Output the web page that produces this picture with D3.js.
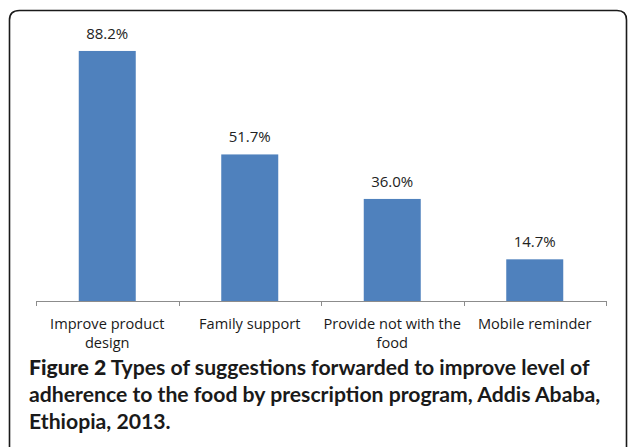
<!DOCTYPE html>
<html>
<head>
<meta charset="utf-8">
<script src="https://cdn.jsdelivr.net/npm/d3@7"></script>
<style>
  html, body { margin: 0; padding: 0; background: #fff; }
  svg { display: block; }
</style>
</head>
<body>
<svg id="chart" width="629" height="447"></svg>
<script>
// ---- data ----
const categories = [
  ["Improve product", "design"],
  ["Family support"],
  ["Provide not with the", "food"],
  ["Mobile reminder"]
];
const values = [88.2, 51.7, 36.0, 14.7];
const valueLabels = ["88.2%", "51.7%", "36.0%", "14.7%"];
const captionBold = "Figure 2";
const captionLines = [
  " Types of suggestions forwarded to improve level of",
  "adherence to the food by prescription program, Addis Ababa,",
  "Ethiopia, 2013."
];

// ---- layout ----
const W = 629, H = 447;
const svg = d3.select("#chart");
const font = "'Open Sans', 'DejaVu Sans', sans-serif";

// frame
svg.append("path")
  .attr("d", "M9.5,460 L9.5,20 Q9.5,10.5 19.5,10.5 L617,10.5 Q626.5,10.5 626.5,20 L626.5,460")
  .attr("fill", "none")
  .attr("stroke", "#1a1a1a")
  .attr("stroke-width", 1.6);

const keys = categories.map((c, i) => i);
const x = d3.scaleBand().domain(keys).range([36, 606]).paddingInner(0.6).paddingOuter(0.3);
const y = d3.scaleLinear().domain([0, 100]).range([301, 17.5]);

// bars
svg.append("g").selectAll("rect").data(values).join("rect")
  .attr("x", (d, i) => x(i))
  .attr("y", d => y(d))
  .attr("width", x.bandwidth())
  .attr("height", d => y(0) - y(d))
  .attr("fill", "#4f81bd");

// value labels
svg.append("g").selectAll("text").data(values).join("text")
  .attr("x", (d, i) => x(i) + x.bandwidth() / 2)
  .attr("y", d => y(d) - 12)
  .attr("text-anchor", "middle")
  .attr("font-family", font)
  .attr("font-size", 15)
  .attr("fill", "#222")
  .text((d, i) => valueLabels[i]);

// axis line and boundary ticks
const r = x.range();
const step = x.step();
const axisG = svg.append("g").attr("stroke", "#8c8c8c").attr("stroke-width", 1);
axisG.append("line").attr("x1", r[0]).attr("x2", r[1]).attr("y1", y(0) + 0.5).attr("y2", y(0) + 0.5);
axisG.selectAll("line.tick").data(d3.range(categories.length + 1)).join("line")
  .attr("class", "tick")
  .attr("x1", i => Math.round(r[0] + i * step) + 0.5)
  .attr("x2", i => Math.round(r[0] + i * step) + 0.5)
  .attr("y1", y(0))
  .attr("y2", y(0) + 5);

// category labels
const catG = svg.append("g");
categories.forEach((lines, i) => {
  const t = catG.append("text")
    .attr("x", x(i) + x.bandwidth() / 2)
    .attr("y", 328.5)
    .attr("text-anchor", "middle")
    .attr("font-family", font)
    .attr("font-size", 14.6)
    .attr("fill", "#1a1a1a");
  lines.forEach((l, j) => {
    t.append("tspan")
      .attr("x", x(i) + x.bandwidth() / 2)
      .attr("dy", j === 0 ? 0 : 19.5)
      .text(l);
  });
});

// caption
const cap = svg.append("g");
const capFont = "Lato, 'Open Sans', sans-serif";
const baselines = [374.5, 401.5, 429];
captionLines.forEach((l, j) => {
  const t = cap.append("text")
    .attr("x", 29)
    .attr("y", baselines[j])
    .attr("font-family", capFont)
    .attr("font-size", 18)
    .attr("font-weight", "bold")
    .attr("fill", "#1a1a1a");
  if (j === 0) {
    t.append("tspan").attr("font-weight", 900).text(captionBold);
  }
  t.append("tspan").text(l);
});
// fit caption first line to ~561px wide
const first = cap.select("text").node();
const wNow = first.getComputedTextLength();
const fs = 18 * 561 / wNow;
cap.selectAll("text").attr("font-size", fs);
</script>
</body>
</html>
